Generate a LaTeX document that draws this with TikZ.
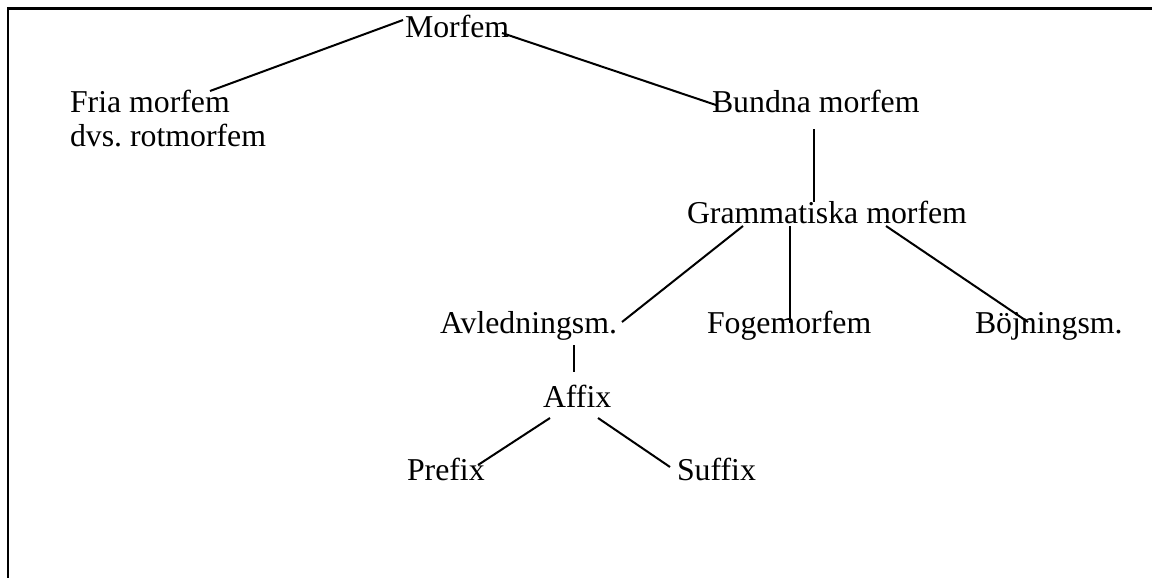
\documentclass[tikz,border=0pt]{standalone}
\usepackage{fontspec}
\setmainfont{Liberation Serif}
\frenchspacing
\begin{document}
\begin{tikzpicture}[x=1pt,y=-1pt,
  lbl/.style={anchor=base west,inner sep=0pt,outer sep=0pt,
    font=\fontsize{31.8}{35}\selectfont},
  edge/.style={line width=2pt},
  frame/.style={line width=2.6pt,line join=miter}]
\useasboundingbox (0,0) rectangle (1152,578);
% open frame: top and left sides only
\draw[frame] (1152,8.5) -- (8,8.5) -- (8,578);

% labels
\node[lbl] (morfem) at (405,38) {Morfem};
\node[lbl] (fria) at (70,112) {\begin{tabular}[t]{@{}l@{}}Fria morfem\\dvs. rotmorfem\end{tabular}};
\node[lbl] (bundna) at (712,113) {Bundna morfem};
\node[lbl] (gram) at (687,223) {Grammatiska morfem};
\node[lbl] (avled) at (440,333) {Avledningsm.};
\node[lbl] (foge) at (707,333) {Fogemorfem};
\node[lbl] (bojn) at (975,333) {Böjningsm.};
\node[lbl] (affix) at (543,407) {Affix};
\node[lbl] (prefix) at (407,480) {Prefix};
\node[lbl] (suffix) at (677,480) {Suffix};

% connectors
\draw[edge] ([xshift=-2pt,yshift=18pt]morfem.base west) -- ([xshift=140pt,yshift=21pt]fria.base west);
\draw[edge] ([xshift=97pt,yshift=5pt]morfem.base west) -- ([xshift=4pt,yshift=8pt]bundna.base west);
\draw[edge] ([xshift=102pt,yshift=-16pt]bundna.base west) -- ([xshift=127pt,yshift=21pt]gram.base west);
\draw[edge] ([xshift=56pt,yshift=-3pt]gram.base west) -- ([xshift=182pt,yshift=11pt]avled.base west);
\draw[edge] ([xshift=103pt,yshift=-3pt]gram.base west) -- ([xshift=83pt,yshift=10pt]foge.base west);
\draw[edge] ([xshift=199pt,yshift=-3pt]gram.base west) -- ([xshift=53pt,yshift=11pt]bojn.base west);
\draw[edge] ([xshift=134pt,yshift=-12pt]avled.base west) -- ([xshift=31pt,yshift=35pt]affix.base west);
\draw[edge] ([xshift=7pt,yshift=-11pt]affix.base west) -- ([xshift=71pt,yshift=15pt]prefix.base west);
\draw[edge] ([xshift=55pt,yshift=-11pt]affix.base west) -- ([xshift=-7pt,yshift=13pt]suffix.base west);
\end{tikzpicture}
\end{document}
